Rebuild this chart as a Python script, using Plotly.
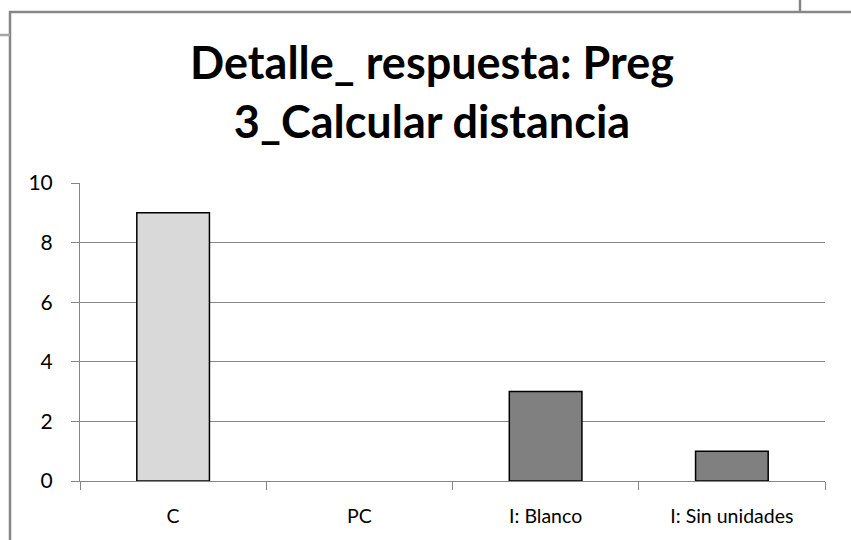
import plotly.graph_objects as go

categories = ["C", "PC", "I: Blanco", "I: Sin unidades"]
values = [9, 0, 3, 1]
bar_colors = ["#d9d9d9", "#808080", "#808080", "#808080"]
title_text = "Detalle_ respuesta: Preg<br>3_Calcular distancia"
y_ticks = [0, 2, 4, 6, 8, 10]

W, H = 851, 540
L, R, T, B = 80, 26, 183, 59
PW, PH = W - L - R, H - T - B

def px(x):
    return (x - L) / PW

def py(y):
    return (H - B - y) / PH

outline_widths = [0 if v == 0 else 1.5 for v in values]

fig = go.Figure(
    go.Bar(
        x=categories,
        y=values,
        marker=dict(color=bar_colors, line=dict(color="#000000", width=outline_widths)),
        width=0.39,
    )
)

frame = dict(color="#868686", width=2.5)
shapes = [
    dict(type="line", xref="paper", yref="paper", x0=px(10), x1=px(10), y0=py(11), y1=py(545), line=frame),
    dict(type="line", xref="paper", yref="paper", x0=px(9), x1=px(855), y0=py(12), y1=py(12), line=frame),
    dict(type="line", xref="paper", yref="paper", x0=px(-2), x1=px(10), y0=py(35), y1=py(35), line=dict(color="#a6a6a6", width=2.5)),
    dict(type="line", xref="paper", yref="paper", x0=px(800), x1=px(800), y0=py(-2), y1=py(12), line=frame),
]

fig.update_layout(
    width=W,
    height=H,
    margin=dict(l=L, r=R, t=T, b=B, pad=0),
    paper_bgcolor="white",
    plot_bgcolor="white",
    showlegend=False,
    bargap=0.61,
    font=dict(family="Lato", size=19, color="#000000"),
    title=dict(
        text="<b>" + title_text + "</b>",
        x=432 / W,
        xanchor="center",
        xref="container",
        y=1 - 79 / H,
        yanchor="middle",
        yref="container",
        font=dict(family="Lato", size=45, color="#000000"),
    ),
    shapes=shapes,
)

fig.update_xaxes(
    showline=True,
    linecolor="#868686",
    linewidth=1,
    ticks="outside",
    tickson="boundaries",
    ticklen=8,
    tickcolor="#868686",
    showgrid=False,
    ticklabelstandoff=18,
    tickfont=dict(size=19.5),
)
fig.update_yaxes(
    range=[0, 10],
    tickvals=y_ticks,
    showline=True,
    linecolor="#868686",
    linewidth=1,
    ticks="outside",
    ticklen=8,
    tickcolor="#868686",
    showgrid=True,
    gridcolor="#868686",
    gridwidth=1,
    zeroline=False,
    ticklabelstandoff=14,
    tickfont=dict(size=21),
)

fig.write_html(
    "out.html",
    config={"displayModeBar": False},
    post_script="document.body.style.margin='0';document.body.style.overflow='hidden';",
)
